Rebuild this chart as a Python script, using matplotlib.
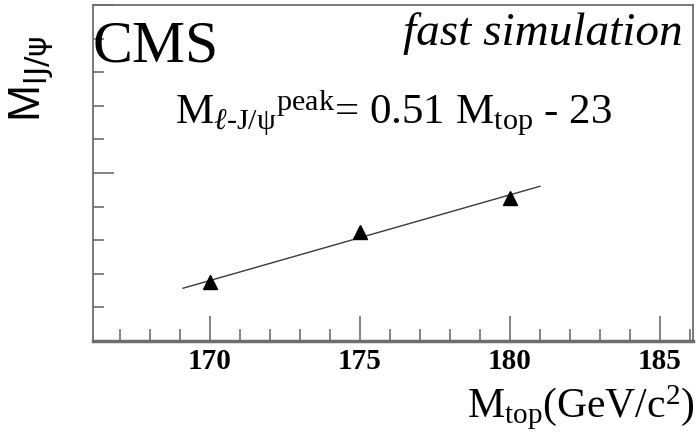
import matplotlib
matplotlib.use("Agg")
import matplotlib.pyplot as plt
import numpy as np
from matplotlib.ticker import MultipleLocator, NullFormatter

plt.rcParams.update({
    "font.family": "Liberation Serif",
    "mathtext.fontset": "custom",
    "mathtext.rm": "Liberation Serif",
    "mathtext.it": "Liberation Serif:italic",
    "mathtext.bf": "Liberation Serif:bold",
})

# fast-simulation peak positions vs generated top mass
m_top = [170, 175, 180]
m_peak = [63.5, 66.5, 68.5]

# fitted line and its drawn range
fit_slope = 0.51
fit_offset = -23.1
fit_range = [169.1, 181.0]

SPINE = "#6e6e6e"

fig = plt.figure(figsize=(6.96, 4.38), dpi=100)
ax = fig.add_axes([0.1336, 0.2215, 0.862, 0.767])

fx = np.array(fit_range)
ax.plot(fx, fit_slope * fx + fit_offset, color="#3a3a3a", lw=1.0)
ax.plot(m_top, m_peak, ls="none", marker="^", ms=10, color="black")

ax.set_xlim(166.1, 186.1)
ax.set_ylim(60, 80)
ax.xaxis.set_major_locator(MultipleLocator(5))
ax.xaxis.set_minor_locator(MultipleLocator(1))
ax.yaxis.set_major_locator(MultipleLocator(10))
ax.yaxis.set_minor_locator(MultipleLocator(2))
ax.yaxis.set_major_formatter(NullFormatter())
ax.tick_params(which="both", direction="in", top=False, right=False,
               color=SPINE, width=1.2)
ax.tick_params(which="major", length=15)
ax.tick_params(which="minor", length=8)
ax.tick_params(axis="x", which="major", length=18, pad=5, labelsize=21)
ax.tick_params(axis="x", which="minor", length=9)
ax.set_xticks([170, 175, 180, 185])
ax.set_xticklabels(["170", "175", "180", "185"], fontweight="bold",
                   fontsize=21)

for side in ("top", "right", "left"):
    ax.spines[side].set_color(SPINE)
    ax.spines[side].set_linewidth(1.3)
ax.spines["bottom"].set_color(SPINE)
ax.spines["bottom"].set_linewidth(2.5)

ax.text(0.0, 0.955, "CMS", transform=ax.transAxes, fontsize=43,
        ha="left", va="top")
ax.text(0.983, 0.88, "fast simulation", transform=ax.transAxes,
        fontsize=34, style="italic", ha="right", va="baseline")
ax.text(0.137, 0.647,
        r"M$_{\ell\mathrm{\text{-}J/\psi}}$$^{\mathrm{peak}}$= 0.51 M$_{\mathrm{top}}$ - 23",
        transform=ax.transAxes, fontsize=31, ha="left", va="baseline")

fig.text(0.998, 0.045, r"M$_{\mathrm{top}}$(GeV/c$^{2}$)", fontsize=30,
         ha="right", va="baseline")
fig.text(0.045, 0.82, r"M$_{\mathsf{lJ/\psi}}$", fontsize=32, rotation=90,
         ha="center", va="center", family="Liberation Sans",
         math_fontfamily="dejavusans")

fig.savefig("out.png", dpi=100)
